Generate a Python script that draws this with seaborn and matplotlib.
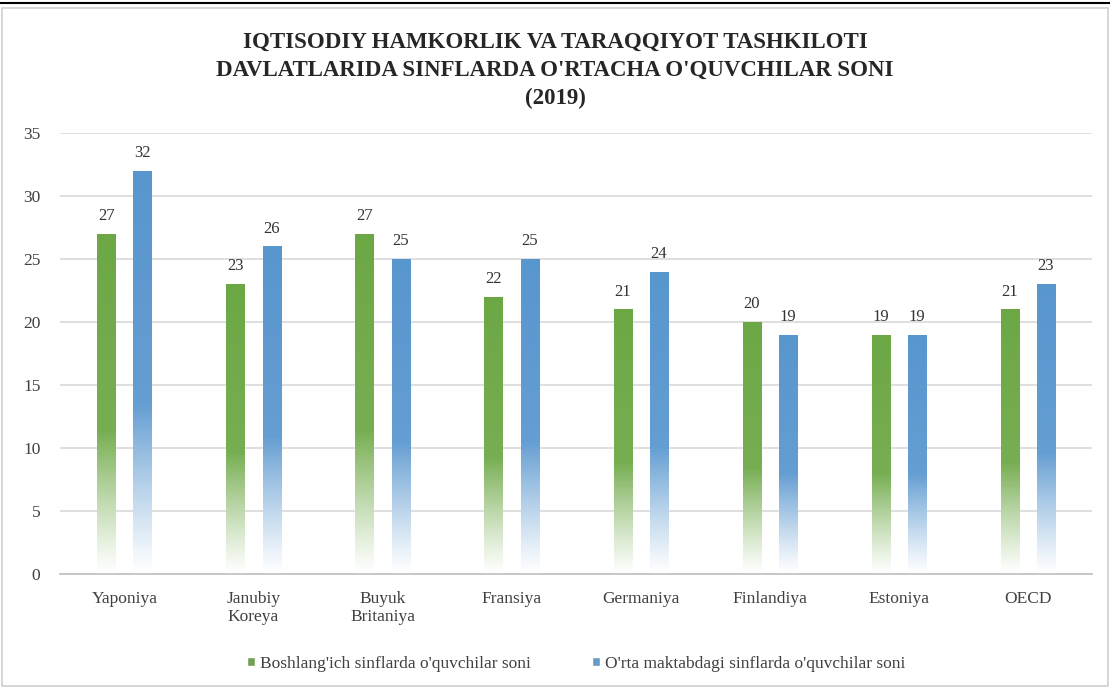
import numpy as np
import pandas as pd
import matplotlib
matplotlib.use("Agg")
import matplotlib.pyplot as plt
import seaborn as sns
from matplotlib.colors import to_rgb

countries = ["Yaponiya", "Janubiy\nKoreya", "Buyuk\nBritaniya", "Fransiya",
             "Germaniya", "Finlandiya", "Estoniya", "OECD"]
boshlang = [27, 23, 27, 22, 21, 20, 19, 21]
orta = [32, 26, 25, 25, 24, 19, 19, 23]
series = ["Boshlang'ich sinflarda o'quvchilar soni",
          "O'rta maktabdagi sinflarda o'quvchilar soni"]
colors = ["#70AD47", "#5B9BD5"]

df = pd.DataFrame({
    "country": countries * 2,
    "value": boshlang + orta,
    "series": [series[0]] * len(countries) + [series[1]] * len(countries),
})

sns.set_style("white")
plt.rcParams["font.family"] = ["Liberation Serif", "DejaVu Serif"]

fig = plt.figure(figsize=(11.1, 6.89), dpi=100)
ax = fig.add_axes([0.054, 0.167, 0.93, 0.64])

sns.barplot(data=df, x="country", y="value", hue="series", palette=colors,
            width=0.56, gap=0.5, ax=ax, legend=True)

# gradient fill: solid at top, fading to white towards the baseline
for cont, col in zip(ax.containers, colors):
    rgb = np.array(to_rgb(col))
    for p in cont.patches:
        x0, w, h = p.get_x(), p.get_width(), p.get_height()
        t = np.linspace(0, 1, 256)[:, None]  # 0 bottom .. 1 top
        f = np.clip(t / 0.42, 0, 1) ** 1.1
        f = f * (0.88 + 0.12 * t)
        img = 1 - f[..., None] * (1 - rgb[None, None, :] * 0.97)
        img = np.repeat(img, 2, axis=1)
        p.set_facecolor("none")
        p.set_edgecolor("none")
        im = ax.imshow(img, extent=[x0, x0 + w, 0, h], origin="lower",
                       aspect="auto", zorder=2, interpolation="bilinear")
        im.set_clip_path(p)
    ax.bar_label(cont, labels=[str(int(v)) for v in cont.datavalues],
                 padding=7, fontsize=12, color="#333333")

ax.set_xlim(-0.5, len(countries) - 0.5)
ax.set_ylim(0, 35)
ax.set_yticks(range(0, 36, 5))
ax.yaxis.grid(True, color="#D9D9D9", linewidth=1.2)
ax.set_axisbelow(True)
for s in ["top", "right", "left"]:
    ax.spines[s].set_visible(False)
ax.spines["bottom"].set_color("#BFBFBF")
ax.spines["bottom"].set_linewidth(1.2)
ax.tick_params(axis="both", length=0, labelsize=12.5, colors="#404040")
ax.tick_params(axis="x", pad=12)
ax.tick_params(axis="y", pad=14)
ax.set_xlabel("")
ax.set_ylabel("")

leg = ax.legend(loc="upper center", bbox_to_anchor=(0.5, -0.15), ncol=2,
                frameon=False, fontsize=12.5, handlelength=0.45, handleheight=0.45,
                handletextpad=0.3, columnspacing=3.5)
for t in leg.get_texts():
    t.set_color("#404040")

fig.text(0.5, 0.898,
         "IQTISODIY HAMKORLIK VA TARAQQIYOT TASHKILOTI\n"
         "DAVLATLARIDA SINFLARDA O'RTACHA O'QUVCHILAR SONI\n(2019)",
         ha="center", va="center", fontsize=16.5, fontweight="bold",
         color="#262626", linespacing=1.45)

# chart frame
fig.patches.append(plt.Rectangle((0.002, 0.004), 0.996, 0.985, transform=fig.transFigure,
                                 fill=False, edgecolor="#D0D0D0", linewidth=1.2))
fig.add_artist(plt.Line2D([0, 1], [0.996, 0.996], transform=fig.transFigure,
                          color="black", linewidth=1.5))

fig.savefig("out.png", dpi=100)
